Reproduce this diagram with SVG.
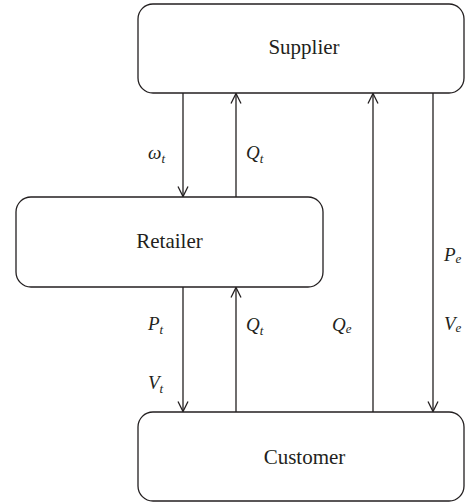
<svg xmlns="http://www.w3.org/2000/svg" width="465" height="502" viewBox="0 0 465 502">
  <defs>
    <style>
      .box { fill: #ffffff; stroke: #231f20; stroke-width: 1.3; }
      .name { font-family: "Liberation Serif", "DejaVu Serif", serif; font-size: 21px; fill: #231f20; text-anchor: middle; }
      .flow { stroke: #231f20; stroke-width: 1.3; fill: none; marker-end: url(#head); }
      .sym { font-family: "Liberation Serif", "DejaVu Serif", serif; font-style: italic; font-size: 19px; fill: #231f20; }
      .sub { font-size: 13px; }
    </style>
    <marker id="head" viewBox="0 0 12 12" refX="11" refY="6" markerWidth="12" markerHeight="12" markerUnits="userSpaceOnUse" orient="auto">
      <path d="M1,1 L11,6 L1,11" fill="none" stroke="#231f20" stroke-width="1.3"/>
    </marker>
  </defs>
  <rect width="465" height="502" fill="#ffffff"/>

  <g id="connectors">
    <!-- supplier to retailer -->
    <line class="flow" x1="183" y1="93" x2="183" y2="196.5"/>
    <!-- retailer to supplier -->
    <line class="flow" x1="236" y1="197" x2="236" y2="93.5"/>
    <!-- retailer to customer -->
    <line class="flow" x1="183" y1="287" x2="183" y2="411.5"/>
    <!-- customer to retailer -->
    <line class="flow" x1="236" y1="412" x2="236" y2="287.5"/>
    <!-- customer to supplier -->
    <line class="flow" x1="373" y1="412" x2="373" y2="93.5"/>
    <!-- supplier to customer -->
    <line class="flow" x1="433" y1="93" x2="433" y2="411.5"/>

    <text class="sym" x="148" y="159">ω<tspan class="sub" dy="4">t</tspan></text>
    <text class="sym" x="246" y="159">Q<tspan class="sub" dy="4">t</tspan></text>
    <text class="sym" x="148" y="330">P<tspan class="sub" dy="4">t</tspan></text>
    <text class="sym" x="148" y="389">V<tspan class="sub" dy="4">t</tspan></text>
    <text class="sym" x="246" y="331">Q<tspan class="sub" dy="4">t</tspan></text>
    <text class="sym" x="332" y="331">Q<tspan class="sub" dy="2">e</tspan></text>
    <text class="sym" x="444" y="261">P<tspan class="sub" dy="2">e</tspan></text>
    <text class="sym" x="444" y="330">V<tspan class="sub" dy="2">e</tspan></text>
  </g>

  <g id="supplier">
    <rect class="box" x="138" y="4" width="326" height="89" rx="15" ry="15"/>
    <text class="name" x="304" y="54">Supplier</text>
  </g>

  <g id="retailer">
    <rect class="box" x="16" y="197" width="307" height="90" rx="15" ry="15"/>
    <text class="name" x="169.5" y="248">Retailer</text>
  </g>

  <g id="customer">
    <rect class="box" x="138" y="412" width="326" height="89" rx="15" ry="15"/>
    <text class="name" x="304.5" y="464">Customer</text>
  </g>
</svg>
